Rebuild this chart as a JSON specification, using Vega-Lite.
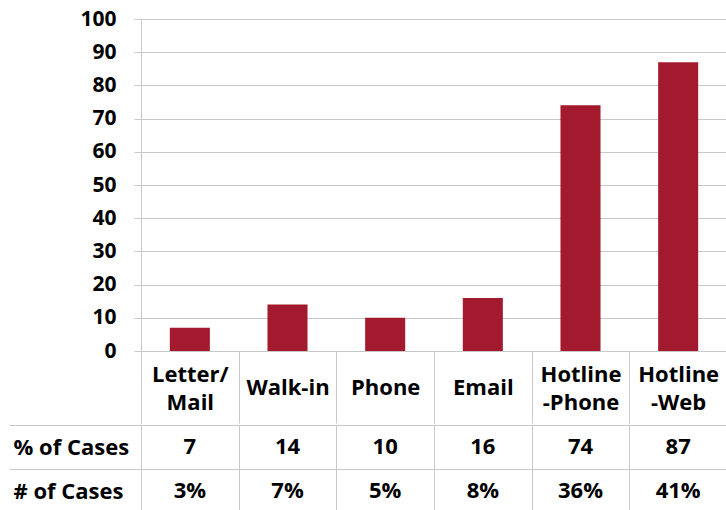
{
  "$schema": "https://vega.github.io/schema/vega-lite/v6.json",
  "padding": {"left": 8, "top": 8, "right": 0, "bottom": 0},
  "spacing": -10,
  "config": {"view": {"stroke": null}, "font": "Open Sans"},
  "datasets": {
    "bars": [
      {"category": "Letter/Mail", "cases": 7},
      {"category": "Walk-in", "cases": 14},
      {"category": "Phone", "cases": 10},
      {"category": "Email", "cases": 16},
      {"category": "Hotline-Phone", "cases": 74},
      {"category": "Hotline-Web", "cases": 87}
    ],
    "table": [
      {"category": "Letter/Mail", "row": "% of Cases", "text": "7"},
      {"category": "Walk-in", "row": "% of Cases", "text": "14"},
      {"category": "Phone", "row": "% of Cases", "text": "10"},
      {"category": "Email", "row": "% of Cases", "text": "16"},
      {"category": "Hotline-Phone", "row": "% of Cases", "text": "74"},
      {"category": "Hotline-Web", "row": "% of Cases", "text": "87"},
      {"category": "Letter/Mail", "row": "# of Cases", "text": "3%"},
      {"category": "Walk-in", "row": "# of Cases", "text": "7%"},
      {"category": "Phone", "row": "# of Cases", "text": "5%"},
      {"category": "Email", "row": "# of Cases", "text": "8%"},
      {"category": "Hotline-Phone", "row": "# of Cases", "text": "36%"},
      {"category": "Hotline-Web", "row": "# of Cases", "text": "41%"}
    ]
  },
  "vconcat": [
    {
      "width": 586,
      "height": 332,
      "data": {"name": "bars"},
      "mark": {"type": "bar", "color": "#A31A2E", "width": {"band": 0.41}},
      "encoding": {
        "x": {
          "field": "category", "type": "nominal", "sort": null,
          "scale": {"paddingInner": 0, "paddingOuter": 0},
          "axis": {
            "title": null, "labelAngle": 0, "tickBand": "extent", "tickSize": 72,
            "minExtent": 72, "maxExtent": 72,
            "tickColor": "#C8C8C8", "domainColor": "#C8C8C8", "grid": false,
            "labelFont": "Open Sans", "labelFontWeight": "bold", "labelFontSize": 22,
            "labelColor": "black",
            "labelBaseline": {"condition": {"test": "datum.value == 'Letter/Mail' || datum.value == 'Hotline-Phone' || datum.value == 'Hotline-Web'", "value": "middle"}, "value": "line-top"},
            "labelPadding": -49,
            "labelLineHeight": 28, "labelOverlap": false, "labelBound": false, "labelLimit": 200,
            "labelExpr": "datum.label == 'Letter/Mail' ? ['Letter/', 'Mail'] : datum.label == 'Hotline-Phone' ? ['Hotline', '-Phone'] : datum.label == 'Hotline-Web' ? ['Hotline', '-Web'] : datum.label"
          }
        },
        "y": {
          "field": "cases", "type": "quantitative",
          "scale": {"domain": [0, 100]},
          "axis": {
            "title": null, "values": [0, 10, 20, 30, 40, 50, 60, 70, 80, 90, 100],
            "tickSize": 7, "labelPadding": 18, "labelFont": "Open Sans", "labelFontSize": 21,
            "labelFontWeight": "bold", "labelColor": "black",
            "gridColor": "#C8C8C8", "domainColor": "#C8C8C8", "tickColor": "#C8C8C8"
          }
        }
      }
    },
    {
      "width": 586,
      "height": 88,
      "data": {"name": "table"},
      "mark": {"type": "text", "font": "Open Sans", "fontWeight": "bold", "fontSize": 22, "color": "black"},
      "encoding": {
        "x": {
          "field": "category", "type": "nominal", "sort": null,
          "scale": {"paddingInner": 0, "paddingOuter": 0},
          "axis": {
            "title": null, "labels": false, "ticks": false, "domain": false,
            "grid": true, "tickBand": "extent", "gridColor": "#C8C8C8"
          }
        },
        "y": {
          "field": "row", "type": "nominal", "sort": null,
          "scale": {"paddingInner": 0, "paddingOuter": 0},
          "axis": {
            "title": null, "tickBand": "extent", "grid": true, "tickSize": 132,
            "labelAlign": "left", "labelPadding": -4, "labelFont": "Open Sans",
            "labelFontSize": 22, "labelFontWeight": "bold", "labelColor": "black",
            "gridColor": "#C8C8C8", "tickColor": "#C8C8C8", "domainColor": "#C8C8C8"
          }
        },
        "text": {"field": "text"}
      }
    }
  ]
}
